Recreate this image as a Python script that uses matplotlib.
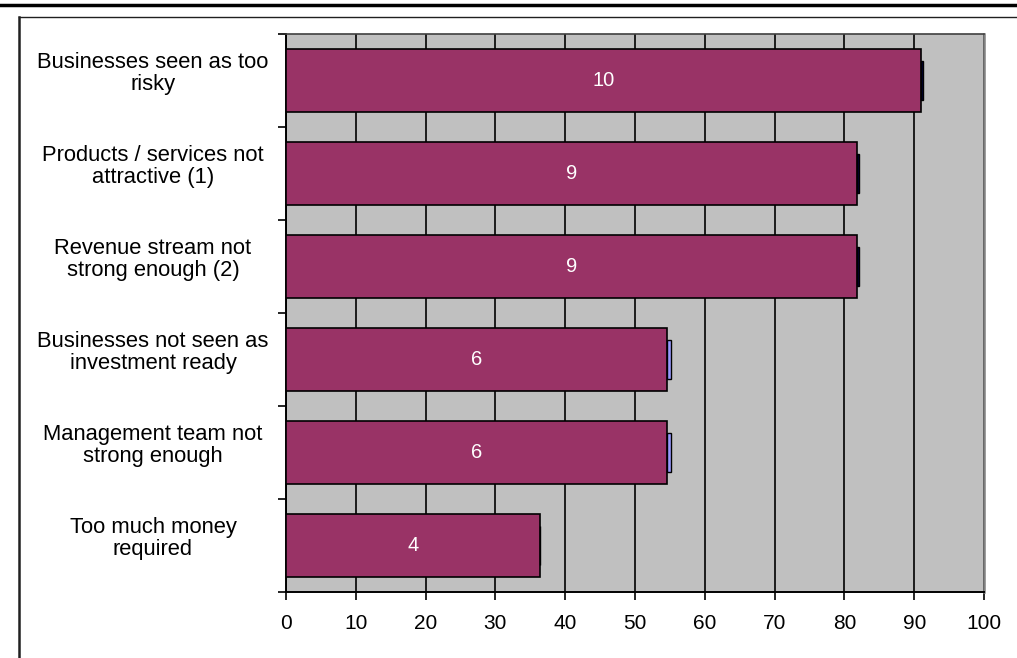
import matplotlib
matplotlib.use("Agg")
import matplotlib.pyplot as plt
from matplotlib.lines import Line2D
import numpy as np

plt.rcParams['font.family'] = ['Liberation Sans', 'DejaVu Sans']

# Reasons given by investors (number of respondents out of 11)
categories = [
    "Businesses seen as too\nrisky",
    "Products / services not\nattractive (1)",
    "Revenue stream not\nstrong enough (2)",
    "Businesses not seen as\ninvestment ready",
    "Management team not\nstrong enough",
    "Too much money\nrequired",
]
counts = [10, 9, 9, 6, 6, 4]
respondents = 11
# small secondary series drawn at the end of each bar
extra = [0.35, 0.3, 0.3, 0.6, 0.6, 0.0]
extra_colors = ["#000040", "#000040", "#000040", "#9999FF", "#9999FF", "#9999FF"]
xticks = [0, 10, 20, 30, 40, 50, 60, 70, 80, 90, 100]

pct = np.array(counts) / respondents * 100

W, H = 1017, 658
fig = plt.figure(figsize=(W / 100, H / 100), dpi=100)
fig.patch.set_facecolor("white")

ax = fig.add_axes([286 / W, 1 - 592 / H, (984 - 286) / W, (592 - 34) / H])
ax.set_facecolor("#C0C0C0")

y = np.arange(len(categories))
ax.barh(y, pct, height=0.667, color="#993366", edgecolor="black",
        linewidth=1.2, zorder=3)
ax.barh(y, extra, left=pct, height=0.41, color=extra_colors,
        edgecolor="black", linewidth=1.0, zorder=3)

for yi, v, c in zip(y, pct, counts):
    ax.text(v / 2, yi, str(c), ha="center", va="center", color="white",
            fontsize=14.5, zorder=4)

ax.set_xlim(0, 100)
ax.set_ylim(len(categories) - 0.5, -0.5)
ax.set_xticks(xticks)
ax.set_xticklabels([str(t) for t in xticks], fontsize=15)
ax.set_yticks(np.arange(len(categories) + 1) - 0.5)
ax.set_yticklabels([])
ax.tick_params(axis="x", direction="out", length=6, width=1.2, pad=10, colors="black")
ax.tick_params(axis="y", direction="out", length=6, width=1.2)
ax.grid(axis="x", color="black", linewidth=1.2, zorder=1)
ax.set_axisbelow(True)

for s in ("left", "bottom"):
    ax.spines[s].set_color("black")
    ax.spines[s].set_linewidth(1.4)
ax.spines["top"].set_color("#404040")
ax.spines["top"].set_linewidth(1.2)
ax.spines["right"].set_color("#808080")
ax.spines["right"].set_linewidth(1.8)

# category labels, centred in the left margin
for yi, lab in zip(y, categories):
    ypix = 34 + (yi + 0.5) * (592 - 34) / len(categories) - 7
    fig.text(153 / W, 1 - ypix / H, lab, ha="center", va="center",
             multialignment="center", fontsize=15.8, linespacing=1.12)

# frame lines
fig.add_artist(Line2D([0, 1], [1 - 5 / H, 1 - 5 / H], color="black", linewidth=2.5))
fig.add_artist(Line2D([19 / W, 1], [1 - 17 / H, 1 - 17 / H], color="#202020", linewidth=1.0))
fig.add_artist(Line2D([19 / W, 19 / W], [0, 1 - 17 / H], color="#202020", linewidth=1.8))

fig.savefig("out.png", dpi=100)
